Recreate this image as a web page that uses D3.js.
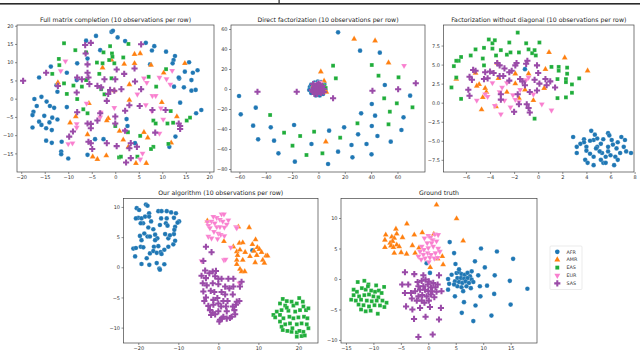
<!DOCTYPE html>
<html>
<head>
<meta charset="utf-8">
<script src="https://cdn.jsdelivr.net/npm/d3@7"></script>
<style>
  body { margin: 0; background: #fff; }
  svg { display: block; font-family: "DejaVu Sans", sans-serif; }
</style>
</head>
<body>
<svg id="chart" width="640" height="353"></svg>
<script>
// Population embeddings, 5 panels, one colour/marker per super-population

const groups = ["AFR", "AMR", "EAS", "EUR", "SAS"];

const titles = [
  "Full matrix completion (10 observations per row)",
  "Direct factorization (10 observations per row)",
  "Factorization without diagonal (10 observations per row)",
  "Our algorithm (10 observations per row)",
  "Ground truth"
];

// tick values per panel
const ticksFullX = [-20, -15, -10, -5, 0, 5, 10, 15, 20];
const ticksFullY = [-15, -10, -5, 0, 5, 10, 15, 20];
const ticksDirectX = [-60, -40, -20, 0, 20, 40, 60];
const ticksDirectY = [-80, -60, -40, -20, 0, 20, 40, 60];
const ticksNoDiagX = [-6, -4, -2, 0, 2, 4, 6, 8];
const ticksNoDiagY = [-7.5, -5.0, -2.5, 0.0, 2.5, 5.0, 7.5];
const ticksOursX = [-20, -10, 0, 10, 20];
const ticksOursY = [-10, -5, 0, 5, 10];
const ticksTruthX = [-15, -10, -5, 0, 5, 10, 15];
const ticksTruthY = [-10, -5, 0, 5, 10];

// ---- Full matrix completion ----
const fullAFR = [[-0.8,18.3],[-0.5,18.6],[-4.1,17.2],[-6.2,15.9],[0.5,16.8],[-3.2,13.3],[2.1,15.8],[6.5,15.3],[8.3,14.4],[7.8,13.2],
  [10.8,12.9],[12.7,11.7],[12.4,10.6],[15.7,10.0],[12.2,9.7],[7.4,9.4],[17.5,7.8],[16.5,7.1],[14.8,7.4],[16.2,5.1],
  [13.6,5.5],[14.6,3.1],[12.5,3.3],[17.1,2.4],[16.2,2.2],[13.8,-1.1],[18.3,-3.1],[17.2,-4.0],[12.8,-10.4],[11.5,-13.2],
  [2.4,-5.6],[2.6,-7.5],[4.2,-12.2],[-2.5,-11.1],[-4.3,-11.1],[-5.9,-15.4],[-10.0,-16.4],[-11.5,-14.5],[-11.5,-15.2],[-11.4,-11.8],
  [-10.3,-2.3],[-8.2,5.1],[-8.1,9.7],[-10.3,7.1],[-5.9,11.0],[-13.7,8.8],[-16.2,5.8],[-12.5,3.7],[-12.3,1.9],[-17.2,-0.1],
  [-15.7,0.5],[-16.7,-2.0],[-14.6,-0.8],[-13.9,-2.0],[-13.0,-2.5],[-17.4,-3.6],[-17.6,-4.5],[-15.1,-4.7],[-16.2,-6.3],[-15.7,-7.2],
  [-13.4,-5.2],[-12.3,-5.7],[-17.6,-7.9],[-14.7,-8.1],[-13.5,-8.6],[-14.0,-6.5],[-14.7,-11.5],[-13.5,-12.1],[13.5,5.8]];
const fullAMR = [[4.1,12.2],[5.3,12.4],[-0.8,10.6],[1.9,9.5],[-2.7,8.5],[4.1,9.7],[7.6,9.2],[10.3,7.1],[14.8,9.7],[-12.2,4.4],
  [-12.2,3.7],[3.0,3.9],[-0.2,2.2],[3.0,-0.4],[9.9,-1.0],[-5.6,-1.3],[-8.4,-4.9],[-9.6,-6.6],[-1.5,-5.4],[-1.8,-6.0],
  [13.1,-4.9],[11.9,-12.1],[-5.9,-9.8],[0.9,-8.9],[1.7,-11.3],[2.8,-13.2],[6.1,-9.2],[6.9,-10.7],[-4.8,-15.9],[-3.8,-16.6],
  [-1.9,-15.6],[4.4,-17.7],[6.6,-17.7]];
const fullEAS = [[-10.9,15.2],[-8.5,13.3],[-6.2,12.7],[-1.1,14.4],[2.8,15.0],[-2.5,12.7],[-0.7,12.4],[-0.6,11.5],[1.7,11.3],[-12.0,10.9],
  [-11.9,9.2],[-13.4,6.8],[-3.9,9.9],[-2.7,9.7],[-0.2,9.7],[-1.3,10.6],[-3.4,6.8],[-0.8,5.6],[-10.9,4.2],[-8.9,3.6],
  [-7.1,3.3],[-6.2,5.1],[-10.3,1.3],[-8.1,-0.1],[-3.0,2.6],[-2.3,1.2],[-6.8,-2.9],[-5.9,-4.0],[7.1,6.0],[8.7,3.3],
  [10.8,8.1],[11.8,-3.4],[8.1,-6.0],[8.6,-6.8],[11.1,-6.8],[12.3,-6.6],[15.2,-6.0],[15.9,-5.2],[11.3,-12.4],[0.0,-7.5],
  [2.7,-9.2],[5.3,-10.2],[8.1,-13.2],[7.6,-13.8],[0.8,-16.1],[1.2,-15.9],[4.7,-15.9]];
const fullEUR = [[-10.6,10.3],[-11.6,7.6],[6.1,5.6],[6.7,4.4],[9.4,5.8],[10.9,5.4],[12.1,7.7],[11.7,3.9],[-0.2,-2.5],[-3.1,-3.8],
  [-8.2,-6.9],[-8.2,-7.9],[-3.2,-5.1],[-6.1,-1.3],[-10.0,-12.4],[-9.1,-12.2],[4.7,1.2],[7.9,0.8],[8.6,0.8],[7.8,-3.4],
  [9.7,-2.6],[6.5,-1.7],[10.2,-5.7],[9.4,-9.5],[5.8,-15.0],[5.3,-16.6],[2.0,-8.8]];
const fullSAS = [[-19.6,4.9],[-14.7,7.1],[-12.2,3.5],[-6.4,14.7],[-6.3,12.4],[-5.2,15.3],[-5.9,9.4],[-5.9,7.1],[-5.7,5.8],[-8.1,5.8],
  [-7.1,5.3],[-5.5,4.0],[-8.2,1.7],[0.3,8.0],[1.9,6.8],[0.0,5.3],[-2.3,5.3],[-3.8,3.5],[-3.0,3.1],[-1.1,2.4],
  [-0.2,2.2],[-1.5,1.3],[1.3,2.6],[4.2,4.7],[5.5,2.6],[5.5,14.9],[4.1,8.3],[-8.1,-3.7],[-5.9,-6.8],[-5.2,-6.9],
  [-5.2,-8.1],[-3.2,-4.0],[-3.8,-6.0],[0.0,-4.9],[2.1,-3.3],[5.2,-2.0],[7.9,-3.1],[10.7,-3.1],[13.5,-6.8],[13.8,-7.5],
  [13.8,-8.3],[-9.0,-9.0],[-9.8,-10.4],[-5.7,-11.8],[-5.2,-12.2],[-4.9,-13.8],[-1.8,-12.2],[8.5,-9.3],[3.3,-12.2],[2.3,-17.5],
  [3.3,-16.3],[0.3,-13.0],[0.0,-6.8],[3.0,-13.6],[4.6,-13.2],[2.1,-8.8],[-1.8,-0.6],[3.0,-1.8]];

// ---- Direct factorization ----
const directAFR = [[14.9,56.7],[31.6,38.3],[46.6,36.3],[50.4,4],[69.6,-6.7],[64.6,-28.3],[63,-41],[54.9,-52.7],[44.8,-47],[40.5,-37],
  [40.5,-15],[43,-26.7],[32.4,-24.3],[30.1,-45.3],[36.5,-55],[40.3,-65.3],[25.1,-56],[25.8,-68.3],[19.5,-38.3],[14.9,-62.7],
  [8.1,-41.7],[7.3,-75],[-5.3,-55],[-18.5,-36],[-17.9,-72.7],[-30.4,-64.3],[-33.7,-51.7],[-36.2,-38.3],[-45.8,-50.3],[-49.6,-36.7],
  [-47.6,-18.7],[-59,-25.3],[-60.3,-7],
  [-6.5,2],[-7,-1],[-5.5,4.5],[-3,6.5],[-0.5,7.5],[2,7],[4.5,5],[-5.5,-4],[-2,-6.5],[1,-6.5],[3.5,-5],[5.5,-2],[-4,0],[0,0]];
const directAMR = [[27.1,50],[43,48.3],[53.2,26.3],[1.8,17.3],[4.3,8],[5.6,-52.7],[5,-1.5],[6,-3],[-4,3]];
const directEAS = [[11.1,23.3],[13.2,10.7],[40.5,24],[45.6,13.3],[60.8,11.7],[49.9,-9.3],[59.5,-14.3],[71.4,-18.3],[54.2,-22.7],[53.2,-35.3],
  [29.6,-34.3],[16.5,-48.7],[-3.3,-42.7],[-13.9,-47],[-26.1,-43.7],[-36.7,-26],[-19.7,-56.7],[-9.1,-66],[3,-64.3],
  [4.5,3],[5.5,1],[3,5],[-2,4],[1,-4]];
const directEUR = [[65,23.3],[1,6.5],[2,5],[-1,5],[0,3]];
const directSAS = [[-46.3,-2.7],[-16.5,-2.7],[11.1,-9.3],[41,-1.7],[60.5,-0.3],[73.9,5.7],
  [-5,-1],[-4,-3],[-3,-5],[-3,1],[-3,3],[-1,-5],[-1,-2],[-1,1],[-1,4],[0,-3],[1,-1],[1,2],[2,-4],[2,-2],
  [2,1],[3,-2],[3,0],[3,3],[4,-3],[4,0],[-2,-1],[0,5],[-4,5],[-2,2],[1,4]];

// ---- Factorization without diagonal ----
const noDiagAFR = [[-1.1,4.4],
  [2.9,-4.5],[3.8,-4.8],[3.8,-5.2],[4.0,-5.8],[4.4,-3.7],[4.6,-4.9],[4.9,-4.7],[4.9,-5.8],[5.2,-5.4],[5.4,-4.8],
  [5.8,-4.0],[5.9,-4.3],[6.1,-4.9],[6.2,-5.5],[6.6,-5.2],[6.9,-4.5],[7.2,-4.9],[7.1,-5.8],[3.2,-6.6],[4.0,-6.3],
  [4.3,-6.7],[4.6,-7.1],[3.9,-7.5],[4.1,-7.9],[4.6,-8.2],[5.4,-7.9],[5.6,-7.1],[5.3,-6.6],[5.8,-6.4],[6.0,-6.9],
  [6.4,-7.1],[6.8,-6.6],[7.3,-6.4],[7.7,-6.6],[6.3,-8.2],[6.6,-7.5],[5.1,-6.4],[4.8,-6.0],[4.3,-5.0],[3.5,-5.4],
  [3.2,-5.8],[5.8,-5.8],[5.6,-7.9],[5.2,-7.5],[4.7,-4.2],[6.5,-6.0]];
const noDiagAMR = [[0.9,6.6],[2.2,5.9],[4.1,4.2],[-3.4,5.2],[-5.2,3.9],[-6.8,3.1],[-4.9,2.4],[-5.1,2.2],[-1.9,3.8],[-0.8,3.8],
  [0.6,4.4],[0.5,1.9],[-1.1,1.7],[-1.9,2.5],[-4.4,1.9],[-4.3,1.4],[-2.6,1.4],[-1.6,0.6],[-0.4,0.3],[-4.6,0.7],
  [-3.5,-0.5],[-4.7,-0.9],[-3.3,3.2]];
const noDiagEAS = [[-1.7,9.2],[-4.1,8.3],[-3.8,7.8],[-3.6,8.2],[-2.4,7.9],[-1.0,7.8],[0.1,7.9],[-5.2,7.0],[-4.5,7.2],[-3.8,7.1],
  [-3.1,6.9],[-2.6,6.3],[-2.3,6.6],[-1.6,6.6],[-0.8,7.0],[-0.5,6.5],[-0.3,6.9],[-5.6,6.2],[-6.4,6.0],[-4.6,5.8],
  [-3.5,6.2],[-0.2,6.2],[-6.6,5.5],[-6.8,5.5],[-7.0,4.8],[-4.5,4.9],[1.1,4.7],[1.7,4.7],[2.4,4.6],[1.7,4.2],
  [2.4,3.8],[2.3,3.1],[2.3,2.7],[1.6,3.1],[3.4,3.2],[2.8,2.4],[2.8,1.3],[-6.8,3.3],[-7.2,2.0],[-6.4,0.5],
  [1.6,0.6],[2.3,0.7],[-0.3,-2.1]];
const noDiagEUR = [[-3.8,2.6],[-3.0,2.0],[-1.5,1.7],[-3.2,1.4],[-4.4,1.1],[-4.2,0.8],[-5.1,0.3],[-2.8,0.3],[-1.9,0.4],[-1.6,0.1],
  [-0.4,1.1],[0.3,-0.2],[1.1,-1.0],[-3.1,-1.5],[-2.3,-0.6],[-1.0,3.0],[-0.8,3.3],[-2.6,2.6],[-3.6,-0.4],[-2.1,1.0]];
const noDiagSAS = [[-3.4,5.2],[-3.2,4.9],[-5.4,4.3],[-5.2,4.2],[-4.0,4.1],[-3.7,3.9],[-2.8,4.5],[-2.2,4.2],[-1.9,4.9],[-1.8,5.2],
  [-0.9,5.5],[-1.0,5.1],[-0.1,4.9],[0.0,3.9],[-5.7,3.4],[-5.5,3.0],[-4.5,3.1],[-4.2,3.2],[-3.2,3.5],[-2.9,3.5],
  [-2.4,2.9],[-1.5,3.1],[-1.3,2.8],[-0.3,3.0],[-1.1,2.3],[0.6,3.1],[1.0,2.8],[0.7,2.3],[1.4,2.0],[0.1,2.5],
  [-5.8,1.7],[-5.7,0.9],[-3.1,1.1],[-3.1,0.4],[-1.7,1.1],[-0.7,1.4],[-0.1,1.6],[-1.6,-0.2],[-0.95,-0.2],[-0.8,-0.7],
  [-2.0,-1.2],[-0.7,-1.3],[-2.4,4.0],[-4.4,4.0]];

// ---- Our algorithm ----
const oursAFR = [[-20.4,9.8],[-19.8,9.5],[-18.1,10.4],[-17.7,10.2],[-20.0,8.2],[-20.6,8.1],[-19.2,8.1],[-18.3,8.4],[-17.3,8.95],[-17.3,8.4],
  [-16.8,7.6],[-18.8,7.3],[-19.4,7.3],[-17.5,6.6],[-16.25,6.3],[-15.0,9.3],[-14.2,9.3],[-12.9,9.3],[-11.8,9.1],[-10.6,8.95],
  [-14.3,8.1],[-12.9,8.1],[-11.1,8.2],[-14.6,7.0],[-13.1,7.3],[-12.7,6.9],[-10.8,6.7],[-9.8,7.6],[-10.2,7.4],[-21.25,3.1],
  [-20.6,3.2],[-19.2,4.5],[-19.6,5.2],[-18.5,5.6],[-17.7,5.1],[-17.1,5.1],[-15.8,5.4],[-15.25,4.8],[-13.3,5.5],[-12.5,4.8],
  [-11.1,5.5],[-11.0,6.2],[-15.8,4.5],[-19.4,3.4],[-18.75,3.3],[-16.1,3.4],[-15.0,3.5],[-12.5,3.4],[-11.25,3.8],[-10.8,4.4],
  [-17.1,2.3],[-16.25,2.7],[-15.4,2.4],[-14.4,2.5],[-14.2,2.2],[-13.5,2.9],[-20.8,1.8],[-17.9,1.5],[-19.2,0.55],[-17.25,0.4],
  [-15.4,0.7],[-13.5,0.5],[-14.75,-0.2],[-14.6,-0.4],[-12.1,5.3],[8.5,2.8]];
const oursAMR = [[-2.75,7.7],[5.0,6.7],[7.7,6.6],[1.4,4.3],[3.75,3.4],[5.25,4.0],[6.1,4.1],[4.6,2.6],[5.4,2.9],[6.7,2.5],
  [4.8,2.0],[4.6,1.2],[6.1,1.2],[4.6,0.5],[5.4,-0.3],[5.8,-0.7],[6.6,-0.7],[8.5,3.8],[9.3,4.6],[9.75,3.3],
  [10.25,3.0],[8.9,2.7],[9.6,2.0],[10.8,2.5],[11.9,1.9],[12.3,1.9],[11.1,1.2],[11.5,0.7],[9.2,0.8],[7.9,1.8]];
const oursEAS = [[16.1,-5.25],[17.1,-5.6],[18.3,-5.7],[20.2,-5.1],[21.1,-5.7],[15.4,-6.0],[16.7,-6.35],[18.75,-6.35],[19.6,-6.0],[21.25,-6.5],
  [21.9,-7.1],[22.5,-6.8],[14.6,-7.35],[15.8,-7.1],[17.5,-7.2],[19.2,-7.35],[20.4,-7.1],[13.75,-7.9],[14.2,-8.3],[15.4,-7.9],
  [16.25,-8.45],[17.75,-8.2],[18.75,-8.45],[20.0,-8.3],[21.4,-8.2],[22.25,-8.45],[15.4,-9.0],[16.7,-9.45],[17.9,-9.3],[19.6,-9.45],
  [20.8,-9.3],[22.1,-9.45],[15.8,-9.85],[16.1,-10.4],[17.25,-10.55],[18.3,-10.7],[19.6,-10.8],[20.25,-10.55],[21.25,-10.7],[22.5,-10.1],
  [19.6,-11.5],[20.8,-11.4],[21.6,-11.3],[18.5,-10.1],[17.1,-6.7]];
const oursEUR = [[0.8,8.8],[1.4,8.8],[-0.4,8.2],[-1.25,8.4],[0.4,7.9],[-2.75,7.5],[-1.7,7.6],[1.1,7.6],[2.5,7.8],[2.1,7.1],
  [-0.9,7.3],[-2.5,6.9],[-2.1,6.5],[-0.4,6.7],[0.4,6.7],[1.5,6.6],[4.4,6.7],[4.6,6.5],[-1.1,5.9],[0.0,5.6],
  [0.6,5.4],[-2.5,5.1],[-1.7,4.8],[1.5,5.2],[-0.2,4.7],[1.4,1.2],[1.8,1.3],[-4.2,1.05],[5.25,-2.65],[3.1,3.3]];
const oursSAS = [[-3.1,3.4],[-1.7,2.5],[-3.75,1.05],[-3.3,-0.55],[-4.2,-1.4],[-2.25,-1.0],[-1.4,-0.7],[-3.1,-1.8],[-0.8,-1.5],[0.0,-1.9],
  [0.8,-1.9],[2.5,-1.9],[3.75,-1.9],[5.8,-2.4],[5.4,-3.2],[-3.9,-2.65],[-2.9,-3.0],[-1.4,-2.65],[0.0,-2.8],[1.7,-3.2],
  [2.75,-3.5],[3.75,-3.2],[-3.75,-4.0],[-1.9,-3.9],[-1.0,-4.1],[0.8,-4.1],[1.7,-4.5],[3.6,-4.5],[-3.1,-5.0],[-3.5,-5.6],
  [-1.25,-5.4],[-0.25,-5.1],[1.25,-5.6],[2.3,-5.6],[4.6,-5.7],[5.25,-5.6],[-2.5,-6.4],[-1.25,-6.2],[0.0,-6.0],[0.7,-6.5],
  [1.9,-6.5],[3.6,-6.5],[4.4,-6.2],[-2.1,-7.1],[-1.4,-7.5],[0.0,-7.3],[2.1,-7.3],[4.0,-7.1],[-1.8,-7.9],[-0.8,-7.8],
  [1.25,-8.2],[3.3,-8.2],[4.2,-7.8],[0.4,-8.7],[0.9,-8.5],[2.1,-8.5],[2.9,-8.4],[0.25,-9.0],[-0.6,-0.6]];

// ---- Ground truth ----
const truthAFR = [[3.9,6.05],[9.6,5.0],[12.5,4.5],[15.45,3.3],[4.7,4.25],[4.95,2.45],[8.5,2.9],[10.3,1.9],[7.9,1.25],[9.1,0.6],
  [12.1,0.6],[14.85,-0.3],[18.05,-1.6],[10.7,-1.1],[9.4,-1.2],[12.0,-2.45],[9.5,-2.85],[8.6,-4.35],[8.2,-6.9],[11.5,-6.0],
  [15.0,-4.2],[6.1,-5.55],[6.5,-3.8],[4.85,-2.85],[3.6,-1.75],[3.8,-0.8],[3.6,0.0],[4.25,0.7],[5.15,0.98],[5.6,1.15],
  [6.05,0.8],[6.65,0.7],[7.15,1.0],[7.6,0.45],[5.3,0.15],[5.95,0.15],[6.55,0.05],[7.15,0.15],[7.9,-0.1],[4.85,-0.4],
  [5.6,-0.5],[6.2,-0.65],[6.8,-0.4],[7.4,-0.65],[8.2,-0.5],[5.3,-1.2],[6.05,-1.35],[6.95,-1.2],[7.75,-1.5],[4.7,-0.9],
  [6.35,-2.0],[5.6,1.6],[0.3,1.0],[-0.3,2.6]];
const truthAMR = [[1.5,12.15],[5.15,9.9],[-3.9,9.05],[-5.9,8.2],[-5.75,7.4],[-7.75,7.25],[-6.65,6.9],[-6.2,6.7],[-4.7,6.8],[-7.9,6.4],
  [-6.5,6.2],[-6.95,5.9],[-5.75,5.6],[-6.8,5.45],[-7.9,5.2],[-6.35,5.2],[-5.3,5.3],[-2.9,5.5],[-2.55,7.25],[-1.1,7.6],
  [-1.7,5.1],[-6.2,4.25],[-4.95,4.35],[-3.95,4.1],[-2.4,4.25],[6.35,6.25],[2.55,3.7],[1.7,3.3],[2.7,2.35],[0.35,1.9],
  [1.0,7.35]];
const truthEAS = [[-12.85,-0.5],[-11.65,-0.3],[-10.9,-0.9],[-9.5,-1.05],[-8.05,-1.3],[-13.6,-1.75],[-13.0,-2.1],[-12.1,-1.5],[-11.4,-1.75],[-10.4,-1.9],
  [-9.7,-2.1],[-9.0,-1.9],[-8.5,-2.3],[-13.6,-2.65],[-12.6,-2.85],[-11.65,-2.65],[-10.8,-2.55],[-10.0,-2.85],[-9.1,-3.0],[-14.05,-3.4],
  [-13.2,-3.55],[-12.25,-3.4],[-11.2,-3.55],[-10.3,-3.65],[-9.4,-3.55],[-8.35,-3.55],[-7.6,-3.9],[-12.7,-4.2],[-11.8,-4.3],[-10.8,-4.5],
  [-9.8,-4.3],[-8.8,-4.35],[-8.0,-4.6],[-12.25,-5.0],[-11.4,-5.3],[-10.5,-5.2],[-9.2,-5.7],[-11.0,-1.2]];
const truthEUR = [[0.0,7.1],[0.4,6.8],[1.2,7.35],[1.8,7.25],[-0.7,6.7],[0.8,6.4],[-0.2,5.9],[0.6,5.9],[1.5,6.2],[-1.2,5.35],
  [-0.8,4.8],[0.0,5.1],[0.9,5.35],[1.8,5.0],[-1.5,4.5],[-1.8,3.7],[-0.9,4.0],[-0.1,4.25],[0.5,4.0],[1.3,4.25],
  [2.1,4.5],[-0.6,3.4],[0.3,3.5],[1.1,3.4],[1.7,3.5],[-1.3,3.2],[0.1,2.8]];
const truthSAS = [[-4.25,1.1],[-2.55,0.8],[-0.9,0.6],[1.95,0.6],[-4.75,-0.9],[-3.65,-0.9],[-1.95,-0.5],[-1.2,-0.3],[-0.5,-0.1],[0.1,-0.4],
  [0.9,-0.65],[1.7,-0.9],[-1.8,-1.2],[-0.9,-1.2],[-0.1,-0.9],[0.5,-1.35],[1.3,-1.35],[-4.25,-2.3],[-3.15,-2.3],[-2.4,-2.0],
  [-1.5,-1.75],[-0.6,-1.75],[0.0,-2.0],[0.7,-2.0],[1.5,-2.1],[2.4,-2.0],[-3.0,-3.2],[-1.8,-2.85],[-1.1,-2.65],[-0.3,-2.85],
  [0.5,-2.55],[1.1,-3.0],[-2.1,-3.55],[-1.2,-3.55],[-0.7,-3.9],[0.1,-3.55],[-4.05,-4.5],[-2.9,-5.0],[-1.5,-4.75],[0.3,-4.6],
  [2.3,-4.75],[-2.6,-6.55],[-0.5,-6.2],[1.95,-6.65],[-1.8,-9.5],[0.8,-9.1]];

// ---------------------------------------------------------------

const colors = { AFR: "#1f77b4", AMR: "#ff7f0e", EAS: "#1fad3a", EUR: "#f97fcf", SAS: "#9a4ba8" };
const symbols = {
  AFR: d3.symbol().type(d3.symbolCircle).size(17),
  AMR: d3.symbol().type(d3.symbolTriangle).size(15),
  EAS: d3.symbol().type(d3.symbolSquare).size(15),
  EUR: d3.symbol().type(d3.symbolTriangle).size(15),
  SAS: d3.symbol().type(d3.symbolCross).size(21)
};
const rotate = { EUR: 180 };

const panels = [
  { title: titles[0], box: [17, 25, 214, 172], xd: [-20.9, 21.0], yd: [-20.1, 20.2], xt: ticksFullX, yt: ticksFullY, yf: d3.format("d"),
    data: { AFR: fullAFR, AMR: fullAMR, EAS: fullEAS, EUR: fullEUR, SAS: fullSAS } },
  { title: titles[1], box: [231, 25, 425, 172], xd: [-66.4, 80.9], yd: [-83, 64], xt: ticksDirectX, yt: ticksDirectY, yf: d3.format("d"),
    data: { AFR: directAFR, AMR: directAMR, EAS: directEAS, EUR: directEUR, SAS: directSAS } },
  { title: titles[2], box: [443.5, 25, 634, 172], xd: [-7.86, 7.95], yd: [-9.1, 10.2], xt: ticksNoDiagX, yt: ticksNoDiagY, yf: d3.format(".1f"),
    data: { AFR: noDiagAFR, AMR: noDiagAMR, EAS: noDiagEAS, EUR: noDiagEUR, SAS: noDiagSAS } },
  { title: titles[3], box: [123.5, 198.5, 318, 343], xd: [-23.7, 24.9], yd: [-12.55, 11.4], xt: ticksOursX, yt: ticksOursY, yf: d3.format("d"),
    data: { AFR: oursAFR, AMR: oursAMR, EAS: oursEAS, EUR: oursEUR, SAS: oursSAS } },
  { title: titles[4], box: [341, 198.5, 537, 343], xd: [-15.9, 19.8], yd: [-10.5, 13.2], xt: ticksTruthX, yt: ticksTruthY, yf: d3.format("d"),
    data: { AFR: truthAFR, AMR: truthAMR, EAS: truthEAS, EUR: truthEUR, SAS: truthSAS } }
];

const svg = d3.select("#chart");
svg.append("rect").attr("width", 640).attr("height", 353).attr("fill", "#fff");

// cropped page header line at the very top
svg.append("rect").attr("x", 0).attr("y", 3).attr("width", 640).attr("height", 1.6).attr("fill", "#2b2b2b");
svg.append("rect").attr("x", 278.5).attr("y", 0).attr("width", 1.2).attr("height", 3).attr("fill", "#2b2b2b");

panels.forEach(p => {
  const [l, t, r, b] = p.box;
  const x = d3.scaleLinear().domain(p.xd).range([l, r]);
  const y = d3.scaleLinear().domain(p.yd).range([b, t]);
  const g = svg.append("g");

  const pts = g.append("g");
  groups.forEach(k => {
    pts.selectAll(null)
      .data(p.data[k])
      .enter().append("path")
      .attr("d", symbols[k])
      .attr("transform", d => `translate(${x(d[0])},${y(d[1])})` + (rotate[k] ? ` rotate(${rotate[k]})` : ""))
      .attr("fill", colors[k])
      .attr("stroke", "#fff")
      .attr("stroke-width", k === "SAS" ? 0 : 0.2);
  });

  const xa = g.append("g")
    .attr("transform", `translate(0,${b})`)
    .call(d3.axisBottom(x).tickValues(p.xt).tickSize(2).tickPadding(1.5).tickFormat(d3.format("d")));
  const ya = g.append("g")
    .attr("transform", `translate(${l},0)`)
    .call(d3.axisLeft(y).tickValues(p.yt).tickSize(2).tickPadding(1.5).tickFormat(p.yf));
  [xa, ya].forEach(a => {
    a.select(".domain").remove();
    a.selectAll("line").attr("stroke", "#444").attr("stroke-width", 0.6);
    a.selectAll("text").attr("font-size", 5).attr("fill", "#333").attr("font-family", "DejaVu Sans");
  });

  g.append("rect")
    .attr("x", l).attr("y", t).attr("width", r - l).attr("height", b - t)
    .attr("fill", "none").attr("stroke", "#444").attr("stroke-width", 0.7);

  g.append("text")
    .attr("x", (l + r) / 2).attr("y", t - 3.5)
    .attr("text-anchor", "middle")
    .attr("font-size", 6.2)
    .attr("fill", "#222")
    .text(p.title);
});

// legend
const lg = svg.append("g").attr("transform", "translate(550,246)");
lg.append("rect").attr("width", 32).attr("height", 43.5).attr("rx", 1)
  .attr("fill", "#fff").attr("stroke", "#ddd").attr("stroke-width", 0.6);
groups.forEach((k, i) => {
  const yy = 5.8 + i * 7.9;
  lg.append("path")
    .attr("d", symbols[k])
    .attr("transform", `translate(7.3,${yy})` + (rotate[k] ? ` rotate(${rotate[k]})` : ""))
    .attr("fill", colors[k]);
  lg.append("text")
    .attr("x", 16.5).attr("y", yy + 1.7)
    .attr("font-size", 4.8).attr("fill", "#333")
    .text(k);
});
</script>
</body>
</html>
